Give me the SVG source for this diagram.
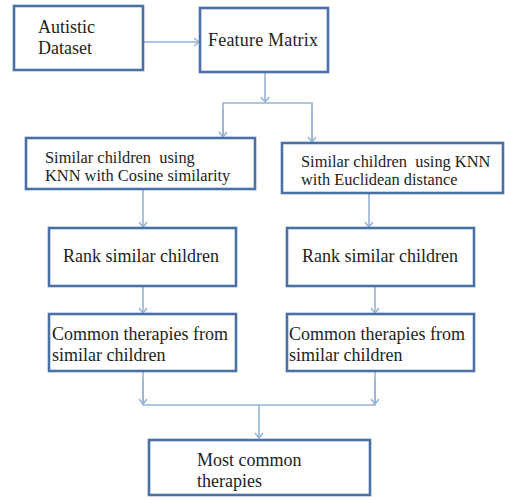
<svg xmlns="http://www.w3.org/2000/svg" width="505" height="500" viewBox="0 0 505 500">
<style>
.box{fill:#fff;stroke:#4a70a6;stroke-width:2.6}
.c{fill:none;stroke:#95b3d7;stroke-width:1.6}
text{font-family:"Liberation Serif","Times New Roman",serif;fill:#1e1e1e;font-size:18px}
.s{font-size:16.4px}
</style>
<defs>
<marker id="a" markerWidth="10" markerHeight="10" refX="8" refY="5" orient="auto" markerUnits="userSpaceOnUse">
<path d="M3,1 L8,5 L3,9" fill="none" stroke="#95b3d7" stroke-width="1.5"/>
</marker>
</defs>
<g id="connectors">
<path class="c" d="M143,42 H199" marker-end="url(#a)"/>
<path class="c" d="M265,72 V102" marker-end="url(#a)"/>
<path class="c" d="M223,137 V103 H312 V142"/>
<path class="c" d="M223,110 V137" marker-end="url(#a)"/>
<path class="c" d="M312,110 V142" marker-end="url(#a)"/>
<path class="c" d="M143,189 V227" marker-end="url(#a)"/>
<path class="c" d="M369,193 V227" marker-end="url(#a)"/>
<path class="c" d="M143,286 V313" marker-end="url(#a)"/>
<path class="c" d="M375,286 V313" marker-end="url(#a)"/>
<path class="c" d="M143,371 V405 H375 V371"/>
<path class="c" d="M143,380 V404" marker-end="url(#a)"/>
<path class="c" d="M375,380 V404" marker-end="url(#a)"/>
<path class="c" d="M259,405 V438" marker-end="url(#a)"/>
</g>
<g id="autistic">
<rect class="box" x="14" y="6" width="129" height="64"/>
<text x="38" y="33">Autistic</text>
<text x="38" y="54">Dataset</text>
</g>
<g id="feature">
<rect class="box" x="200" y="8" width="128" height="64"/>
<text x="208" y="46" textLength="110">Feature Matrix</text>
</g>
<g id="cosine">
<rect class="box" x="26" y="138" width="229" height="51"/>
<text class="s" x="45" y="163" xml:space="preserve">Similar children  using</text>
<text class="s" x="45" y="181">KNN with Cosine similarity</text>
</g>
<g id="euclid">
<rect class="box" x="282" y="143" width="221" height="50"/>
<text class="s" x="301" y="167" xml:space="preserve">Similar children  using KNN</text>
<text class="s" x="301" y="185">with Euclidean distance</text>
</g>
<g id="rank1">
<rect class="box" x="49" y="228" width="187" height="58"/>
<text x="63" y="262">Rank similar children</text>
</g>
<g id="rank2">
<rect class="box" x="287" y="228" width="187" height="58"/>
<text x="302" y="262">Rank similar children</text>
</g>
<g id="common1">
<rect class="box" x="49" y="314" width="187" height="57"/>
<text x="52" y="340">Common therapies from</text>
<text x="52" y="361">similar children</text>
</g>
<g id="common2">
<rect class="box" x="287" y="314" width="187" height="57"/>
<text x="289" y="340">Common therapies from</text>
<text x="289" y="361">similar children</text>
</g>
<g id="most">
<rect class="box" x="149" y="440" width="221" height="55"/>
<text x="197" y="466">Most common</text>
<text x="197" y="487">therapies</text>
</g>
</svg>
